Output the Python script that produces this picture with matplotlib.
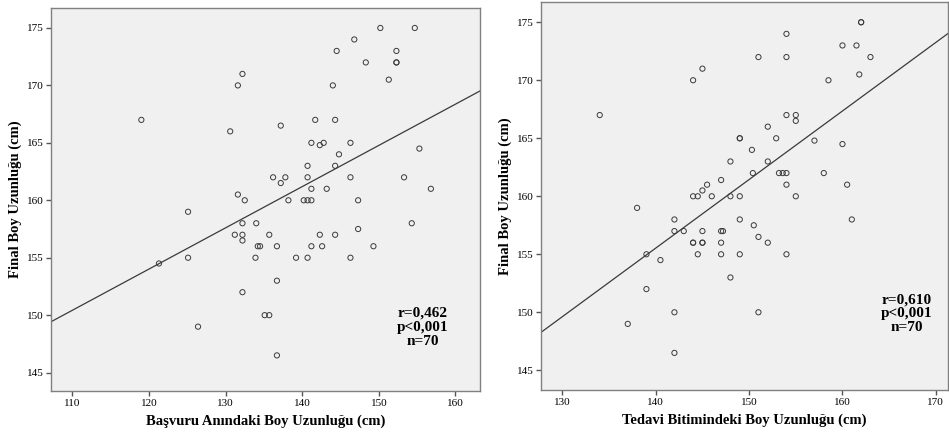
import matplotlib
matplotlib.use("Agg")
import matplotlib.pyplot as plt
import numpy as np

# Left panel: height at presentation vs final height
basvuru = [119, 130.6, 131.6, 132.2, 131.6, 125.1, 150.2, 154.7, 146.8, 144.5,
           152.3, 148.3, 152.3, 152.3, 151.3, 144, 137.2, 141.7, 144.3, 141.2,
           142.3, 142.8, 146.3, 144.8, 155.3, 140.7, 144.3, 136.2, 137.8, 137.2,
           140.7, 146.3, 153.3, 141.2, 143.2, 156.8, 132.5, 138.2, 140.2, 140.7,
           141.2, 147.3, 121.3, 125.1, 126.4, 131.2, 132.2, 134, 132.2, 132.2,
           135.7, 134.2, 134.5, 136.7, 141.2, 142.6, 149.3, 142.3, 144.3, 147.3,
           154.3, 133.9, 139.2, 140.7, 146.3, 136.7, 132.2, 135.1, 135.7, 136.7]
final_sol = [167, 166, 170, 171, 160.5, 159, 175, 175, 174, 173,
             173, 172, 172, 172, 170.5, 170, 166.5, 167, 167, 165,
             164.8, 165, 165, 164, 164.5, 163, 163, 162, 162, 161.5,
             162, 162, 162, 161, 161, 161, 160, 160, 160, 160,
             160, 160, 154.5, 155, 149, 157, 158, 158, 157, 156.5,
             157, 156, 156, 156, 156, 156, 156, 157, 157, 157.5,
             158, 155, 155, 155, 155, 153, 152, 150, 150, 146.5]

# Right panel: height at end of treatment vs final height
tedavi = [134, 144, 145, 138, 144, 144.5, 145, 145.5, 142, 162,
          162, 154, 160, 161.5, 151, 154, 163, 161.8, 158.5, 154,
          155, 155, 152, 149, 149, 152.9, 157, 160, 150.3, 148,
          152, 150.4, 153.2, 153.6, 154, 158, 147, 154, 160.5, 146,
          148, 149, 155, 149, 161, 142, 143, 145, 144, 144,
          145, 145, 144.5, 139, 140.5, 139, 142, 137, 142, 147,
          147.2, 147, 147, 150.5, 151, 152, 149, 154, 148, 151]
final_sag = [167, 170, 171, 159, 160, 160, 160.5, 161, 158, 175,
             175, 174, 173, 173, 172, 172, 172, 170.5, 170, 167,
             167, 166.5, 166, 165, 165, 165, 164.8, 164.5, 164, 163,
             163, 162, 162, 162, 162, 162, 161.4, 161, 161, 160,
             160, 160, 160, 158, 158, 157, 157, 157, 156, 156,
             156, 156, 155, 155, 154.5, 152, 150, 149, 146.5, 157,
             157, 156, 155, 157.5, 156.5, 156, 155, 155, 153, 150]

sol_text = "r=0,462\np<0,001\nn=70"
sag_text = "r=0,610\np<0,001\nn=70"

serif = ["Liberation Serif", "DejaVu Serif"]
plt.rcParams["font.family"] = serif

fig = plt.figure(figsize=(9.49, 4.43), dpi=100)
ax1 = fig.add_axes([0.0537, 0.1174, 0.452, 0.8646])
ax2 = fig.add_axes([0.570, 0.1196, 0.4289, 0.876])


def scatter_panel(ax, x, y, xlim, ylim, xticks, xlabel, note, note_pos):
    ax.set_facecolor("#f0f0f0")
    ax.scatter(x, y, s=14, facecolors="none", edgecolors="#3a3a3a",
               linewidths=0.7, zorder=3)
    b, a = np.polyfit(x, y, 1)
    xs = np.array(xlim)
    ax.plot(xs, a + b * xs, color="#3a3a3a", lw=0.9, zorder=2)
    ax.set_xlim(xlim)
    ax.set_ylim(ylim)
    ax.set_xticks(xticks)
    ax.set_yticks([145, 150, 155, 160, 165, 170, 175])
    ax.tick_params(direction="out", length=3.5, width=1, color="#555555",
                   labelsize=8, pad=2)
    for s in ax.spines.values():
        s.set_color("#808080")
        s.set_linewidth(1)
    ax.set_xlabel(xlabel, fontsize=10.5, fontweight="bold", labelpad=5)
    ax.set_ylabel("Final Boy Uzunluğu (cm)", fontsize=10.5,
                  fontweight="bold", labelpad=3)
    ax.text(note_pos[0], note_pos[1], note, transform=ax.transAxes,
            ha="center", va="center", fontsize=11, fontweight="bold",
            linespacing=1.1)


scatter_panel(ax1, basvuru, final_sol, (107.2, 163.2), (143.4, 176.74),
              [110, 120, 130, 140, 150, 160],
              "Başvuru Anındaki Boy Uzunluğu (cm)", sol_text, (0.867, 0.167))
scatter_panel(ax2, tedavi, final_sag, (127.7, 171.3), (143.3, 176.75),
              [130, 140, 150, 160, 170],
              "Tedavi Bitimindeki Boy Uzunluğu (cm)", sag_text, (0.899, 0.196))

fig.savefig("out.png", dpi=100)
